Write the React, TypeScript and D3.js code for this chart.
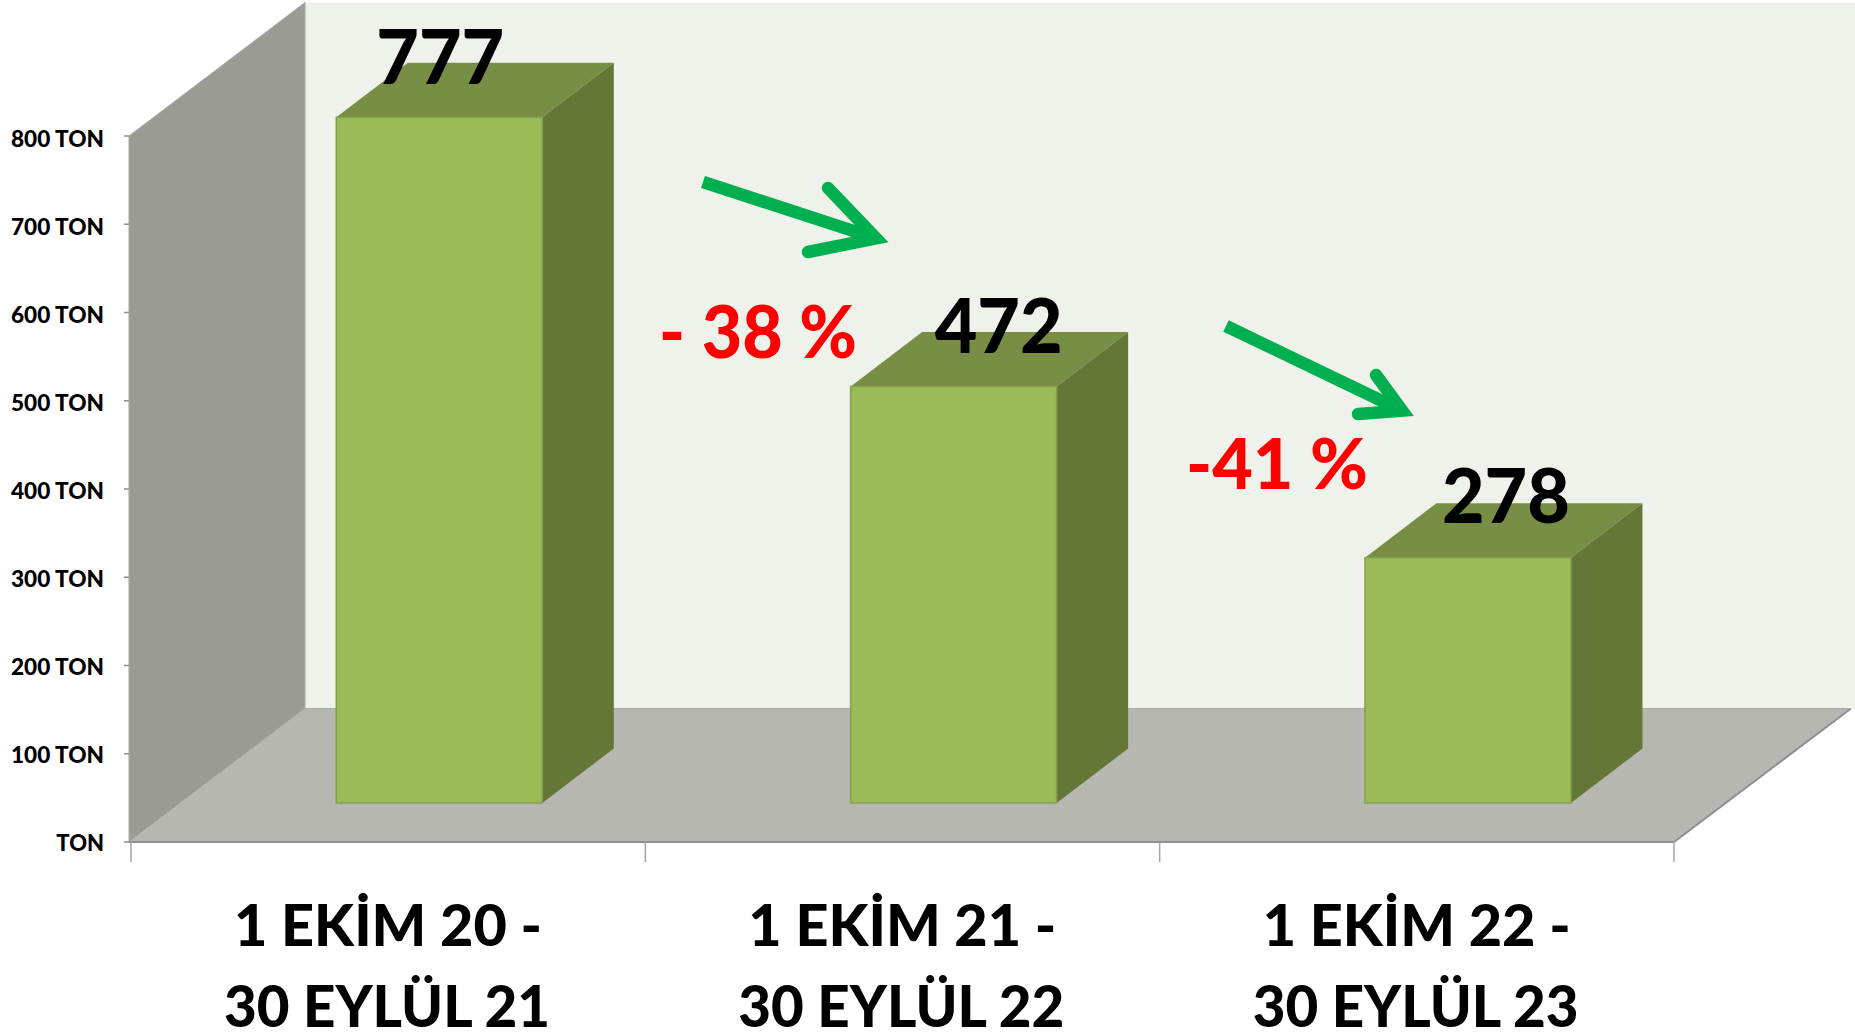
import React from "react";
import * as d3 from "d3";

const categoriesLine1 = ["1 EKİM 20 -", "1 EKİM 21 -", "1 EKİM 22 -"];
const categoriesLine2 = ["30 EYLÜL 21", "30 EYLÜL 22", "30 EYLÜL 23"];
const values = [777, 472, 278];
const valueLabels = ["777", "472", "278"];
const yTicks = [0, 100, 200, 300, 400, 500, 600, 700, 800];
const changeLabels = ["- 38 %", "-41 %"];

const W = 1855, H = 1035;
const x0 = 131, x1 = 1674, yBase = 842, yTop = 136;
const wallLeft = 129, wallRight = 305;
const wallDy = -133.5, floorRightDx = 177;
const barDx = 71.5, barDy = -54.5;

const y = d3.scaleLinear().domain([0, 800]).range([yBase, yTop]);
const band = d3.scaleBand<number>().domain([0, 1, 2]).range([x0, x1]);
const barW = 206, barOffset = 205.3, floorShift = -39;
const poly = (p: number[][]) => (d3.line()(p as [number, number][]) || "") + "Z";

const FONT = "Lato, 'Open Sans', sans-serif";
const COL = { back: "#EFF2EB", wall: "#9A9C94", floor: "#B5B7B0", axis: "#8F8F8F", front: "#9BBB59", edge: "#84A04C", top: "#778E44", side: "#647736", arrow: "#00B050" };

const labelDx = [1, 45, 38];
const labelDy = [-33, -33, -35];

const arrows = [
  { from: [703, 182], tip: [891, 243], a: [828, 188], b: [808, 252] },
  { from: [1226, 326], tip: [1418, 418], a: [1376, 375], b: [1358, 414] },
];
const changePos = [
  { x: 659, y: 358, size: 72, len: 198 },
  { x: 1186, y: 489, size: 70, len: 182 },
];

function headVertex(a: { tip: number[]; a: number[]; b: number[] }, sw: number) {
  const ang = (p: number[]) => Math.atan2(p[1] - a.tip[1], p[0] - a.tip[0]);
  const aa = ang(a.a), ab = ang(a.b);
  let diff = Math.abs(aa - ab);
  if (diff > Math.PI) diff = 2 * Math.PI - diff;
  const mid = Math.atan2(Math.sin(aa) + Math.sin(ab), Math.cos(aa) + Math.cos(ab));
  const off = sw / 2 / Math.sin(diff / 2);
  return [a.tip[0] + off * Math.cos(mid), a.tip[1] + off * Math.sin(mid)] as [number, number];
}

export default function App() {
  const sw = 12.5;
  return (
    <svg width={W} height={H} viewBox={`0 0 ${W} ${H}`} style={{ position: "absolute", left: 0, top: 0, background: "#fff" }}>
      <rect x={wallRight} y={yTop + wallDy} width={W - wallRight} height={yBase - yTop} fill={COL.back} />
      <path d={poly([[wallLeft, yTop], [wallRight, yTop + wallDy], [wallRight, yBase + wallDy], [wallLeft, yBase]])} fill={COL.wall} stroke="#A8A9A4" strokeWidth={1} />
      <path d={poly([[wallLeft, yBase], [wallRight, yBase + wallDy], [x1 + floorRightDx, yBase + wallDy], [x1, yBase]])} fill={COL.floor} />
      <path d={d3.line()([[wallLeft, yBase], [x1, yBase], [x1 + floorRightDx, yBase + wallDy]]) || ""} fill="none" stroke={COL.axis} strokeWidth={2} />
      <path d={d3.line()([[wallRight, yBase + wallDy], [x1 + floorRightDx, yBase + wallDy]]) || ""} fill="none" stroke="#A9ABA4" strokeWidth={1} />

      {yTicks.map((t) => (
        <g key={t}>
          <line x1={wallLeft - 5} x2={wallLeft} y1={y(t)} y2={y(t)} stroke={COL.axis} strokeWidth={1.5} />
          <text x={104} y={y(t) + 9 + t / 400} textAnchor="end" fontFamily={FONT} fontWeight={900} fontSize={22} textLength={t === 0 ? undefined : 93} lengthAdjust="spacingAndGlyphs" fill="#000">
            {t === 0 ? "TON" : `${t} TON`}
          </text>
        </g>
      ))}
      {[...band.domain().map((i) => band(i)!), x1].map((tx) => (
        <line key={tx} x1={tx} x2={tx} y1={yBase} y2={yBase + 20} stroke="#A6A6A6" strokeWidth={1.5} />
      ))}

      {values.map((v, i) => {
        const l = band(i)! + barOffset;
        const r = l + barW;
        const b = y(0) + floorShift;
        const t = y(v) + floorShift;
        return (
          <g key={i}>
            <path d={poly([[l, t], [l + barDx, t + barDy], [r + barDx, t + barDy], [r, t]])} fill={COL.top} />
            <path d={poly([[r, t], [r + barDx, t + barDy], [r + barDx, b + barDy], [r, b]])} fill={COL.side} />
            <rect x={l} y={t} width={barW} height={b - t} fill={COL.front} stroke={COL.edge} strokeWidth={1.5} />
            <text x={l + barW / 2 + labelDx[i]} y={t + labelDy[i]} textAnchor="middle" fontFamily={FONT} fontWeight={900} fontSize={76} textLength={128} lengthAdjust="spacingAndGlyphs" fill="#000">
              {valueLabels[i]}
            </text>
          </g>
        );
      })}

      {categoriesLine1.map((c, i) => {
        const cx = band(i)! + 257;
        return (
          <g key={c} fontFamily={FONT} fontWeight={900} fontSize={57} textAnchor="middle" fill="#000">
            <text x={cx} y={946} textLength={308} lengthAdjust="spacingAndGlyphs">{c}</text>
            <text x={cx - 1} y={1027} textLength={326} lengthAdjust="spacingAndGlyphs">{categoriesLine2[i]}</text>
          </g>
        );
      })}

      {arrows.map((a, i) => {
        const v = headVertex(a, sw);
        return (
          <g key={i} fill="none" stroke={COL.arrow} strokeWidth={sw}>
            <line x1={a.from[0]} y1={a.from[1]} x2={v[0]} y2={v[1]} />
            <path d={d3.line()([a.a as [number, number], v, a.b as [number, number]]) || ""} strokeLinecap="round" strokeLinejoin="miter" strokeMiterlimit={8} />
          </g>
        );
      })}

      {changeLabels.map((c, i) => (
        <text key={c} x={changePos[i].x} y={changePos[i].y} fontFamily={FONT} fontWeight={900} fontSize={changePos[i].size} textLength={changePos[i].len} lengthAdjust="spacingAndGlyphs" fill="#FF0000" style={{ whiteSpace: "pre" }}>
          {c}
        </text>
      ))}
    </svg>
  );
}
